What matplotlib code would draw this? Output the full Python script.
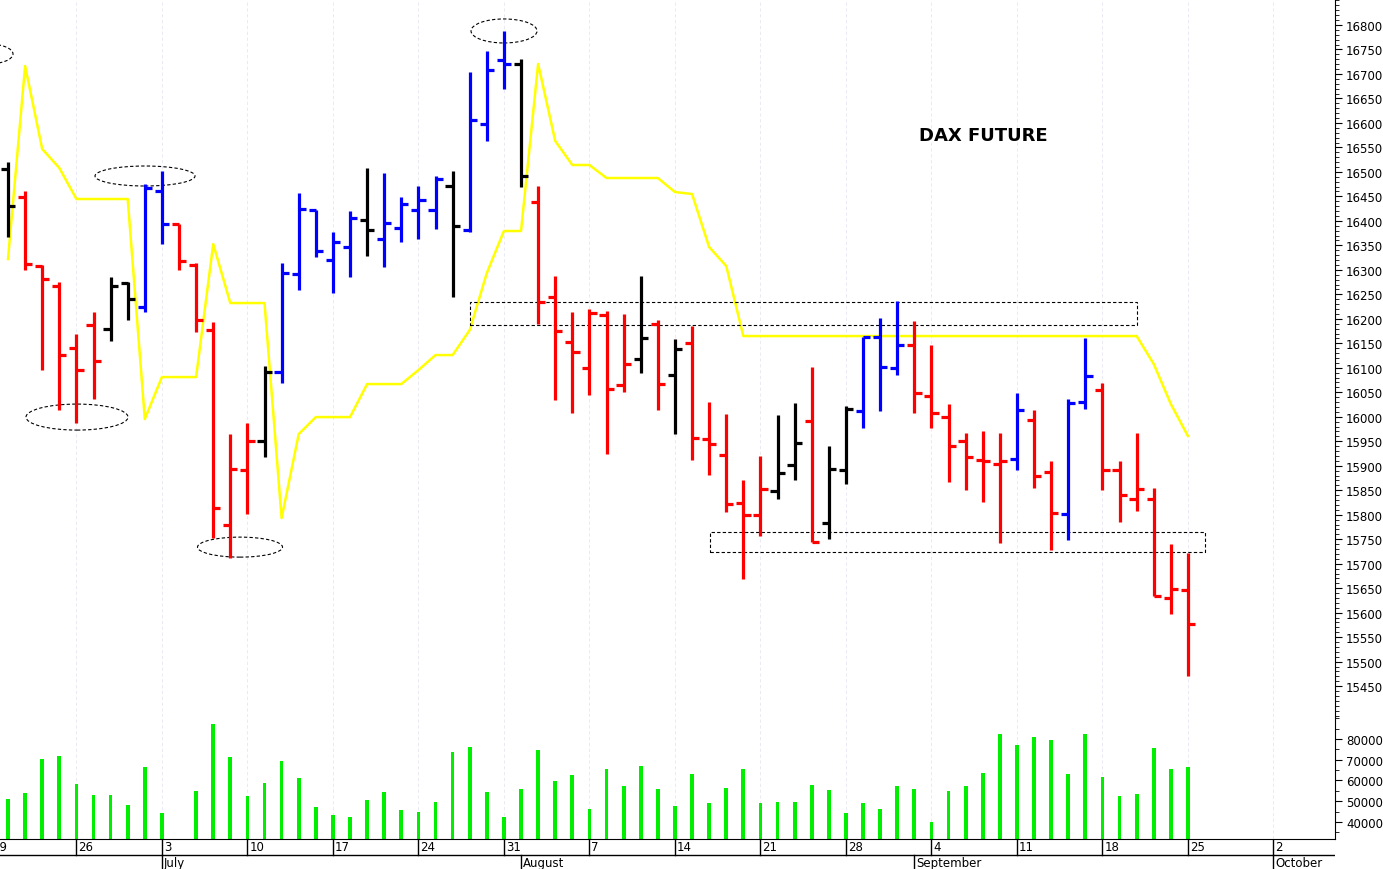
import numpy as np
import matplotlib
matplotlib.use("Agg")
import matplotlib.pyplot as plt
from matplotlib.patches import Ellipse, Rectangle

# daily OHLC (trading day index 0 = 20 June)
opens = [16506, 16449, 16308, 16266, 16141, 16187, 16179, 16273, 16224, 16461,
         16393, 16310, 16178, 15780, 15891, 15951, 16092, 16291, 16422, 16320,
         16346, 16402, 16364, 16385, 16422, 16422, 16471, 16381, 16597, 16728,
         16721, 16439, 16245, 16153, 16099, 16208, 16064, 16118, 16189, 16085,
         16150, 15954, 15922, 15824, 15799, 15848, 15901, 15991, 15784, 15891,
         16011, 16162, 16099, 16147, 16043, 15999, 15950, 15912, 15903, 15914,
         15994, 15887, 15801, 16031, 16054, 15892, 15833, 15833, 15630, 15646]
highs = [16521, 16461, 16310, 16276, 16168, 16214, 16286, 16276, 16476, 16501,
         16393, 16314, 16193, 15965, 15988, 16104, 16314, 16457, 16422, 16377,
         16420, 16508, 16497, 16448, 16471, 16491, 16501, 16704, 16747, 16787,
         16731, 16471, 16287, 16214, 16220, 16215, 16210, 16287, 16197, 16158,
         16186, 16031, 16006, 15871, 15919, 16004, 16028, 16101, 15940, 16022,
         16163, 16201, 16237, 16196, 16147, 16026, 15967, 15971, 15966, 16048,
         16014, 15910, 16037, 16160, 16068, 15909, 15967, 15854, 15741, 15722]
lows = [16368, 16299, 16096, 16014, 15988, 16036, 16154, 16197, 16213, 16352,
        16299, 16173, 15752, 15711, 15801, 15917, 16068, 16258, 16327, 16253,
        16286, 16329, 16305, 16357, 16364, 16383, 16245, 16377, 16563, 16670,
        16469, 16189, 16035, 16008, 16045, 15924, 16051, 16090, 16014, 15964,
        15912, 15881, 15806, 15668, 15757, 15832, 15871, 15745, 15750, 15863,
        15978, 16011, 16085, 16007, 15977, 15866, 15851, 15825, 15742, 15891,
        15855, 15728, 15748, 16015, 15850, 15786, 15808, 15634, 15598, 15471]
closes = [16430, 16311, 16282, 16127, 16096, 16114, 16266, 16241, 16467, 16393,
          16318, 16197, 15814, 15894, 15950, 16092, 16294, 16424, 16338, 16357,
          16405, 16381, 16396, 16434, 16443, 16485, 16389, 16605, 16709, 16721,
          16491, 16234, 16176, 16133, 16211, 16057, 16108, 16161, 16066, 16138,
          15956, 15944, 15822, 15799, 15852, 15886, 15946, 15745, 15893, 16016,
          16163, 16102, 16147, 16048, 16008, 15941, 15917, 15910, 15910, 16014,
          15879, 15803, 16029, 16084, 15891, 15840, 15852, 15634, 15648, 15576]
bar_colors = "krrrrrkkbbrrrrrkbbbbbkbbbbkbbbkrrrrrrkrkrrrrrkkrkkbbbrrrrrrbrrbbrrrrrr"

# yellow line (screen pixel rows, converted below)
yellow_px = [260, 67, 150, 169, 200, 200, 200, 200, 420, 378,
             378, 378, 245, 304, 304, 304, 519, 435, 418, 418,
             418, 385, 385, 385, 371, 356, 356, 331, 274, 232,
             232, 65, 142, 166, 166, 179, 179, 179, 179, 193,
             195, 248, 267, 337, 337, 337, 337, 337, 337, 337,
             337, 337, 337, 337, 337, 337, 337, 337, 337, 337,
             337, 337, 337, 337, 337, 337, 337, 365, 405, 437]
yellow = [16800 - (p - 26) * 2.0424 for p in yellow_px]

volume = [51170, 53770, 70280, 71740, 58140, 52960, 52960, 48420, 66560, 44530,
          31900, 54740, 87290, 71420, 52310, 58620, 69310, 61050, 47290, 43560,
          42430, 50690, 54410, 46000, 45020, 49720, 73680, 75950, 54250, 42590,
          55710, 74660, 59590, 62670, 46480, 65430, 57330, 66880, 55710, 47610,
          63320, 49230, 56360, 65430, 49230, 49720, 49390, 57650, 55220, 44530,
          49230, 46480, 57170, 55710, 39840, 54740, 57490, 63810, 82430, 76920,
          80970, 79680, 63320, 82430, 61540, 52470, 53280, 75630, 65430, 66560]

week_idx = [-1, 4, 9, 14, 19, 24, 29, 34, 39, 44, 49, 54, 59, 64, 69, 74]
week_labels = ["19", "26", "3", "10", "17", "24", "31", "7", "14", "21", "28",
               "4", "11", "18", "25", "2"]
month_idx = [9, 30, 53, 74]
month_labels = ["July", "August", "September", "October"]

cmap = {"k": "black", "r": "#ff0000", "b": "#0000ff"}
XL = (-0.468, 77.6)

fig = plt.figure(figsize=(13.83, 8.7), dpi=100)
ax = fig.add_axes([0, 0.1747, 0.9653, 0.8253])
axv = fig.add_axes([0, 0.0345, 0.9653, 0.1402])
axd = fig.add_axes([0, 0, 0.9653, 0.0345])

x = np.arange(len(opens))
for i in x:
    c = cmap[bar_colors[i]]
    ax.plot([i, i], [lows[i], highs[i]], color=c, lw=2.3, solid_capstyle="butt")
    ax.plot([i - 0.42, i], [opens[i], opens[i]], color=c, lw=2.3, solid_capstyle="butt")
    ax.plot([i, i + 0.42], [closes[i], closes[i]], color=c, lw=2.3, solid_capstyle="butt")
ax.plot(x, yellow, color="#ffff00", lw=1.8, zorder=1)

# dashed ellipses and boxes
def px2x(p):
    return (p - 8) / 17.1

def py2y(p):
    return 16800 - (p - 26) * 2.0424

for cx, cy, w, h in [(-12, 55, 50, 20), (145, 177, 100, 20), (77, 418, 102, 26),
                     (240, 548, 85, 20), (504, 32, 66, 24)]:
    ax.add_patch(Ellipse((px2x(cx), py2y(cy)), w / 17.1, h * 2.0424, fill=False,
                         ls=(0, (3, 2)), lw=0.8, ec="black"))
for x0, x1, y0, y1 in [(470, 1137, 303, 326), (710, 1205, 533, 553)]:
    ax.add_patch(Rectangle((px2x(x0), py2y(y1)), (x1 - x0) / 17.1, (y1 - y0) * 2.0424,
                           fill=False, ls=(0, (3, 2)), lw=0.8, ec="black"))

ax.text(px2x(983), py2y(136), "DAX FUTURE", ha="center", va="center",
        fontsize=13, fontweight="bold", family="DejaVu Sans")

ax.set_xlim(*XL)
ax.set_ylim(15387, 16853)
ax.set_yticks(np.arange(15450, 16801, 50))
ax.set_yticks(np.arange(15390, 16851, 10), minor=True)

axv.bar(x, np.array(volume) - 31800, bottom=31800, width=0.22, color="#00ee00")
axv.set_xlim(*XL)
axv.set_ylim(31800, 90600)
axv.set_yticks(np.arange(40000, 80001, 10000))
axv.set_yticks(np.arange(35000, 90001, 5000), minor=True)

for a in (ax, axv):
    for s in ("left", "top"):
        a.spines[s].set_visible(False)
    a.spines["bottom"].set_visible(a is axv)
    a.yaxis.tick_right()
    a.tick_params(axis="y", which="major", length=5, labelsize=8.5, pad=3)
    a.tick_params(axis="y", which="minor", length=3)
    a.set_xticks([])
    for w in week_idx:
        a.axvline(w, color="#e6e6f2", lw=0.6, ls=(0, (4, 3)), zorder=0)

# date strip
axd.set_xlim(*XL)
axd.set_ylim(0, 1)
axd.axis("off")
axd.plot(XL, [0.47, 0.47], color="black", lw=1)
for w, lab in zip(week_idx, week_labels):
    axd.plot([w, w], [0.47, 1], color="black", lw=1)
    axd.text(w + 0.12, 0.74, lab, ha="left", va="center", fontsize=8.5)
for m, lab in zip(month_idx, month_labels):
    axd.plot([m, m], [0, 0.47], color="black", lw=1)
    axd.text(m + 0.12, 0.2, lab, ha="left", va="center", fontsize=8.5)

fig.savefig("out.png", dpi=100)
